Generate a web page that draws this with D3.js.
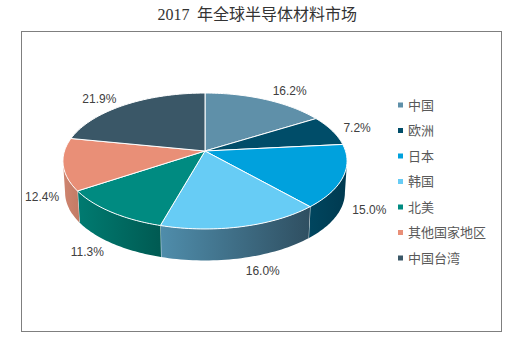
<!DOCTYPE html>
<html><head><meta charset="utf-8">
<script src="https://cdn.jsdelivr.net/npm/d3@7/dist/d3.min.js"></script>
<style>html,body{margin:0;padding:0;background:#fff}svg{display:block}</style>
</head><body><svg id="c" width="514" height="354"></svg>
<script>
const titleYear = "2017";
const titleRest = "年全球半导体材料市场";
const categories = ["中国","欧洲","日本","韩国","北美","其他国家地区","中国台湾"];
const shares = [16.2,7.2,15.0,16.0,11.3,12.4,21.9];
const topColors = ["#5f90a9","#004d69","#00a1dd","#67ccf5","#008b81","#e98f77","#3a5767"];
const wallFrom = ["#5f90a9","#004d69","#00465f","#4f8dab","#007b71","#cf8570","#3a5767"];
const wallTo = ["#5f90a9","#004d69","#003a50","#2f4f61","#005a52","#c27a64","#3a5767"];
const labelNudgeX = [24,25,26,21,-23.5,-21,-25.5];
const labelNudgeY = [-9,-3,33,44,40,32,-6];

const svg = d3.select("#c");
const hub = {x:205,y:151}, spanX = 140.5, spanY = 66.5, tilt = 0.147, depth = 31.5, baseShrink = 0.985;
const project = (t,dy=0,sx=1)=>{
  const u=Math.sin(t), v=-Math.cos(t), w=1-tilt*v;
  return [hub.x+sx*spanX*u/w, hub.y+spanY*v/w+dy];
};
const arcs = d3.pie().value(d=>d).sort(null)(shares);
const line = d3.line();
const samples = (a,b,dy=0,sx=1)=>d3.range(0,41).map(i=>project(a+(b-a)*i/40,dy,sx));
const visFrom = Math.acos(-0.147), visTo = 2*Math.PI-visFrom;

const title = svg.append("text").attr("y",20).attr("fill","#333");
title.append("tspan").attr("x",157.5).attr("font-family","'Liberation Serif'").attr("font-size",16).text(titleYear);
title.append("tspan").attr("x",197).attr("font-family","'Noto Sans CJK SC'").attr("font-size",16).text(titleRest);
svg.append("rect").attr("x",21.5).attr("y",31.5).attr("width",480).attr("height",300)
  .attr("fill","#fff").attr("stroke","#7f7f7f").attr("stroke-width",1);

const defs = svg.append("defs");
const order = d3.range(arcs.length);
order.forEach(i=>{
  const g=defs.append("linearGradient").attr("id","w"+i);
  g.append("stop").attr("offset","0%").attr("stop-color",wallFrom[i]);
  g.append("stop").attr("offset","100%").attr("stop-color",wallTo[i]);
});
// side walls: only the part of each slice's rim that faces the viewer
order.forEach(i=>{
  const a=Math.max(arcs[i].startAngle,visFrom), b=Math.min(arcs[i].endAngle,visTo);
  if(b<=a) return;
  const top=samples(a,b), bot=samples(b,a,depth,baseShrink);
  svg.append("path").attr("d",line(top.concat(bot))+"Z")
    .attr("fill",`url(#w${i})`).attr("stroke","none");
  if(arcs[i].endAngle<visTo){
    svg.append("path").attr("d",line([project(b),project(b,depth,baseShrink)]))
      .attr("stroke","#dfe6e9").attr("stroke-width",1).attr("fill","none");
  }
});
// top faces
arcs.forEach((d,i)=>{
  const pts=[[hub.x,hub.y]].concat(samples(d.startAngle,d.endAngle));
  svg.append("path").attr("d",line(pts)+"Z").attr("fill",topColors[i])
    .attr("stroke","#fff").attr("stroke-width",1).attr("stroke-linejoin","round");
});
// data labels
arcs.forEach((d,i)=>{
  const p=project((d.startAngle+d.endAngle)/2);
  svg.append("text").attr("x",p[0]+labelNudgeX[i]).attr("y",p[1]+labelNudgeY[i]+4.5)
    .attr("text-anchor","middle").attr("font-family","'Liberation Sans'")
    .attr("font-size",12).attr("fill","#404040").text(d3.format(".1f")(d.value)+"%");
});
// legend
const legendY = d3.scalePoint().domain(categories).range([105,258]);
const leg = svg.append("g").selectAll("g").data(categories).join("g")
  .attr("transform",d=>`translate(0,${legendY(d)})`);
leg.append("rect").attr("x",398).attr("y",-2.5).attr("width",5).attr("height",5)
  .attr("fill",(d,i)=>topColors[i]);
leg.append("text").attr("x",408).attr("y",4.5).attr("font-family","'Noto Sans CJK SC'")
  .attr("font-size",13).attr("fill","#595959").text(d=>d);
</script></body></html>
